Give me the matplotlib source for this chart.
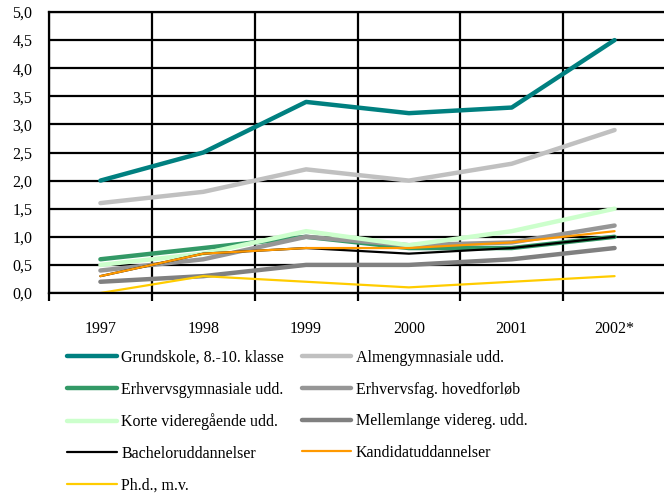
import matplotlib
matplotlib.use("Agg")
import matplotlib.pyplot as plt
from matplotlib.ticker import FuncFormatter, FixedLocator

years = ["1997", "1998", "1999", "2000", "2001", "2002*"]

grundskole = [2.0, 2.5, 3.4, 3.2, 3.3, 4.5]
almengym = [1.6, 1.8, 2.2, 2.0, 2.3, 2.9]
erhvervsgym = [0.6, 0.8, 1.0, 0.8, 0.8, 1.0]
erhvervsfag = [0.4, 0.6, 1.0, 0.85, 0.9, 1.2]
korte = [0.5, 0.7, 1.1, 0.85, 1.1, 1.5]
mellemlange = [0.2, 0.3, 0.5, 0.5, 0.6, 0.8]
bachelor = [0.3, 0.7, 0.8, 0.7, 0.8, 1.0]
kandidat = [0.3, 0.7, 0.8, 0.8, 0.9, 1.1]
phd = [0.0, 0.3, 0.2, 0.1, 0.2, 0.3]

series = [
    ("Grundskole, 8.-10. klasse", grundskole, "#008080", 3.2),
    ("Almengymnasiale udd.", almengym, "#c0c0c0", 3.2),
    ("Erhvervsgymnasiale udd.", erhvervsgym, "#339966", 3.2),
    ("Erhvervsfag. hovedforløb", erhvervsfag, "#969696", 3.2),
    ("Korte videregående udd.", korte, "#ccffcc", 3.2),
    ("Mellemlange videreg. udd.", mellemlange, "#808080", 3.2),
    ("Bacheloruddannelser", bachelor, "#000000", 1.6),
    ("Kandidatuddannelser", kandidat, "#ff9900", 1.6),
    ("Ph.d., m.v.", phd, "#ffcc00", 1.6),
]

plt.rcParams["font.family"] = ["Liberation Serif", "DejaVu Serif"]

fig = plt.figure(figsize=(6.64, 4.98), dpi=100)
ax = fig.add_axes([49 / 664, 1 - 293 / 498, 617 / 664, 281 / 498])

x = list(range(len(years)))
handles = {}
for name, vals, col, lw in series:
    (h,) = ax.plot(x, vals, color=col, lw=lw, solid_capstyle="round", label=name)
    handles[name] = h

ax.set_xlim(-0.5, len(years) - 0.5)
ax.set_ylim(0, 5)
ax.set_yticks([i * 0.5 for i in range(11)])
ax.yaxis.set_major_formatter(FuncFormatter(lambda v, p: f"{v:.1f}".replace(".", ",")))
ax.tick_params(axis="y", length=0, pad=12, labelsize=11.5)

# category boundaries carry grid + outward ticks, labels sit on minor ticks
ax.xaxis.set_major_locator(FixedLocator([i - 0.5 for i in range(len(years) + 1)]))
ax.xaxis.set_minor_locator(FixedLocator(x))
ax.set_xticklabels([""] * (len(years) + 1))
ax.set_xticklabels(years, minor=True)
ax.tick_params(axis="x", which="major", length=6, width=1.6, color="black", direction="out")
ax.tick_params(axis="x", which="minor", length=0, pad=20, labelsize=11.5)

ax.grid(True, which="major", color="black", lw=1.6)
ax.set_axisbelow(True)
for s in ax.spines.values():
    s.set_linewidth(1.6)
    s.set_color("black")

order_names = [s[0] for s in series]
col1 = [order_names[i] for i in (0, 2, 4, 6, 8)]
col2 = [order_names[i] for i in (1, 3, 5, 7)]
names = col1 + col2
fig.legend([handles[n] for n in names], names, ncol=2, frameon=False,
           loc="upper left", bbox_to_anchor=(67 / 664, 1 - 350 / 498),
           fontsize=11.5, handlelength=3.1, handletextpad=0.3,
           labelspacing=0.98, columnspacing=1.1, borderaxespad=0, borderpad=0)

fig.savefig("out.png", dpi=100)
